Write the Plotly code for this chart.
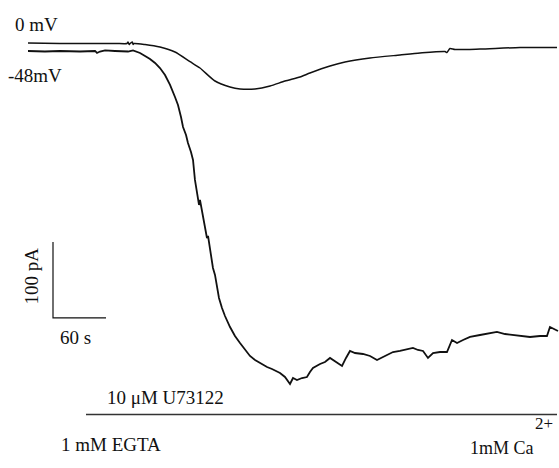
import plotly.graph_objects as go

# ---- data (time in s, current in pA) ----
t_0mv = [0, 36.2, 81.5, 100.0, 112.0, 113.2, 114.5, 115.5, 118.0, 119.0, 120.0, 132.5, 149.4, 166.4, 183.4,
         194.7, 211.7, 228.7, 240.0, 257.0, 274.0, 290.9, 307.9, 319.2, 341.9, 358.9, 387.2, 421.1,
         443.8, 472.1, 474.3, 477.7, 483.4, 511.7, 557.0, 598.9]
i_0mv = [0, -0.7, -0.7, -0.7, -0.7, 1.3, -2.0, -0.7, 1.3, -2.0, -0.7, -2.0, -5.3, -11.8, -24.5,
         -32.9, -50.0, -57.9, -60.5, -60.5, -56.6, -50.0, -44.7, -39.5, -30.3, -25.0, -19.7, -15.8,
         -13.2, -11.2, -12.5, -7.2, -8.6, -7.9, -5.9, -5.9]

t_48mv = [0, 19.2, 36.2, 58.9, 75.9, 78.1, 81.5, 87.2, 98.5, 113.2, 118.9, 126.8, 132.5, 138.1,
          143.8, 149.4, 155.1, 160.8, 166.4, 169.8, 173.2, 175.5, 178.9, 181.1, 184.5, 186.8,
          189.0, 191.3, 193.6, 194.7, 197.0, 198.1, 200.4, 202.6, 203.8, 204.9, 207.2, 209.4,
          211.7, 214.0, 216.2, 219.6, 223.0, 228.7, 234.3, 240.0, 245.7, 251.3, 257.0, 262.6,
          270.6, 276.2, 285.3, 290.9, 296.6, 300.0, 304.5, 310.2, 315.8, 319.2, 322.6, 330.6,
          336.2, 341.9, 347.5, 355.5, 360.0, 364.5, 370.2, 379.2, 387.2, 395.1, 401.9, 413.2,
          421.1, 435.8, 441.5, 447.2, 452.8, 458.5, 466.4, 474.3, 480.0, 485.7, 492.5, 500.4,
          511.7, 523.0, 530.9, 540.0, 549.1, 556.9, 568.3, 579.6, 587.5, 590.9, 595.5, 600.0]
i_48mv = [0, -0.7, 0, -0.7, 0, -2.6, -0.7, 0.7, 0, -0.7, 0.7, -2.6, -6.6, -10.5,
          -15.8, -22.4, -31.6, -44.7, -60.5, -71.1, -86.8, -100.0, -110.5, -121.1, -132.9, -143.4,
          -169.7, -185.5, -202.6, -196.1, -209.2, -218.4, -232.9, -246.1, -243.4, -252.6, -268.4, -285.5,
          -294.7, -307.9, -325.0, -338.2, -348.7, -363.2, -375.0, -384.2, -393.4, -401.3, -406.6, -410.5,
          -415.8, -418.4, -423.7, -428.9, -438.2, -430.3, -432.9, -430.3, -429.0, -422.4, -417.1, -411.8,
          -409.2, -403.9, -407.9, -414.5, -403.9, -394.7, -397.4, -398.7, -401.3, -406.6, -402.6, -396.1,
          -394.7, -390.8, -393.4, -394.7, -403.9, -397.4, -396.1, -396.1, -380.3, -384.2, -380.3, -376.3,
          -373.7, -371.1, -369.7, -372.4, -373.7, -375.0, -376.3, -375.0, -375.0, -363.2, -365.8, -368.4]

offset_48mv = -10.5          # display offset of the -48 mV trace (pA)
scale_t = 60                 # s
scale_i = 100                # pA
scale_origin = (28.3, -361.8)

trace_labels = ["0 mV", "-48mV"]
scale_labels = ["100 pA", "60 s"]
drug_labels = ["10 \u03bcM U73122", "1 mM EGTA", "1mM Ca", "2+"]

W, H = 559, 468
font = "Liberation Serif, Times New Roman, serif"

fig = go.Figure()
fig.add_trace(go.Scatter(x=t_0mv, y=i_0mv, mode="lines", line_shape="spline",
                         line=dict(color="#111", width=1.5, smoothing=0.6), hoverinfo="skip"))
fig.add_trace(go.Scatter(x=t_48mv, y=[v + offset_48mv for v in i_48mv], mode="lines",
                         line=dict(color="#111", width=1.8), hoverinfo="skip"))
x0, y0 = scale_origin
fig.add_trace(go.Scatter(x=[x0, x0, x0 + scale_t], y=[y0 + scale_i, y0, y0], mode="lines",
                         line=dict(color="#111", width=1.2), hoverinfo="skip"))

def px(x):
    return x / W

def py(y):
    return 1 - y / H

ann = []
def add(text, xc, yc, size=19, angle=0):
    ann.append(dict(text=text, x=px(xc), y=py(yc), xref="paper", yref="paper",
                    xanchor="center", yanchor="middle", showarrow=False,
                    textangle=angle, font=dict(family=font, size=size, color="#111")))

add(trace_labels[0], 36, 24)
add(trace_labels[1], 35, 75)
add(scale_labels[0], 30.5, 276, angle=-90)
add(scale_labels[1], 75, 337)
add(drug_labels[0], 165, 397)
add(drug_labels[1], 110.5, 444.5)
add(drug_labels[2], 502, 448, size=18)
add(drug_labels[3], 544, 423, size=17)

fig.update_layout(
    width=W, height=H, margin=dict(l=0, r=0, t=0, b=0),
    paper_bgcolor="white", plot_bgcolor="white", showlegend=False,
    xaxis=dict(range=[-31.70, 601.13], visible=False, fixedrange=True),
    yaxis=dict(range=[-559.2, 56.58], visible=False, fixedrange=True),
    annotations=ann,
    shapes=[dict(type="line", xref="paper", yref="paper",
                 x0=px(86), x1=px(557), y0=py(414.5), y1=py(414.5),
                 line=dict(color="#333", width=1.5))],
)
fig.write_html("out.html")
